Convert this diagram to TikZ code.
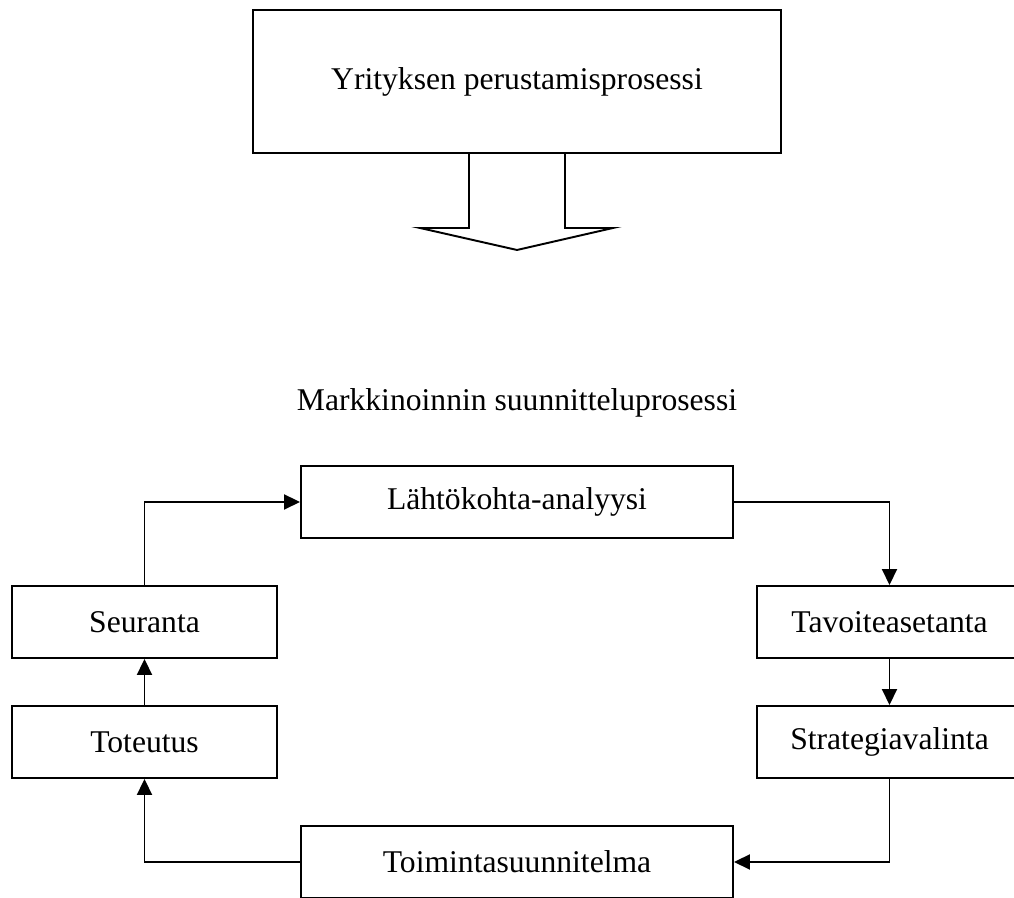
\documentclass[tikz,border=0pt]{standalone}
\usepackage{fontspec}
\setmainfont{Liberation Serif}
\usetikzlibrary{arrows.meta}
\tikzset{
	laatikko/.style={draw, line width=1.1pt, inner sep=0pt, minimum height=1.44cm, font=\fontsize{18}{22}\selectfont},
	nuoli/.style={line width=1.1pt, -{Triangle[length=0.32cm,width=0.3cm]}}
}
\begin{document}
\begin{tikzpicture}
			\useasboundingbox (0,0) rectangle (20.28,17.96);
			\node[laatikko, minimum width=10.56cm, minimum height=2.86cm] (yritys) at (10.34,16.33) {Yrityksen perustamisprosessi};
			
			% Iso ontto nuoli
			\draw[line width=1.1pt, line join=miter] (9.38,14.90) -- (9.38,13.40) -- (8.40,13.40) -- (10.34,12.96) -- (12.26,13.40) -- (11.30,13.40) -- (11.30,14.90);
			
			\node[font=\fontsize{18}{22}\selectfont] (markkinointi) at (10.34,9.90) {Markkinoinnin suunnitteluprosessi};
			
			\node[laatikko, minimum width=8.64cm] (lahto) at (10.34,7.92) {Lähtökohta-analyysi};
			\node[laatikko, minimum width=5.30cm] (seuranta) at (2.89,5.52) {Seuranta};
			\node[laatikko, minimum width=5.30cm] (toteutus) at (2.89,3.12) {Toteutus};
			\node[laatikko, minimum width=5.30cm] (tavoite) at (17.79,5.52) {Tavoiteasetanta};
			\node[laatikko, minimum width=5.30cm] (strategia) at (17.79,3.12) {Strategiavalinta};
			\node[laatikko, minimum width=8.64cm] (toiminta) at (10.34,0.72) {Toimintasuunnitelma};
			
			% Kierto
			\draw[nuoli] (seuranta.north) |- (lahto.west);
			\draw[nuoli] (lahto.east) -| (tavoite.north);
			\draw[nuoli] (tavoite.south) -- (strategia.north);
			\draw[nuoli] (strategia.south) |- (toiminta.east);
			\draw[nuoli] (toiminta.west) -| (toteutus.south);
			\draw[nuoli] (toteutus.north) -- (seuranta.south);
		\end{tikzpicture}
\end{document}
